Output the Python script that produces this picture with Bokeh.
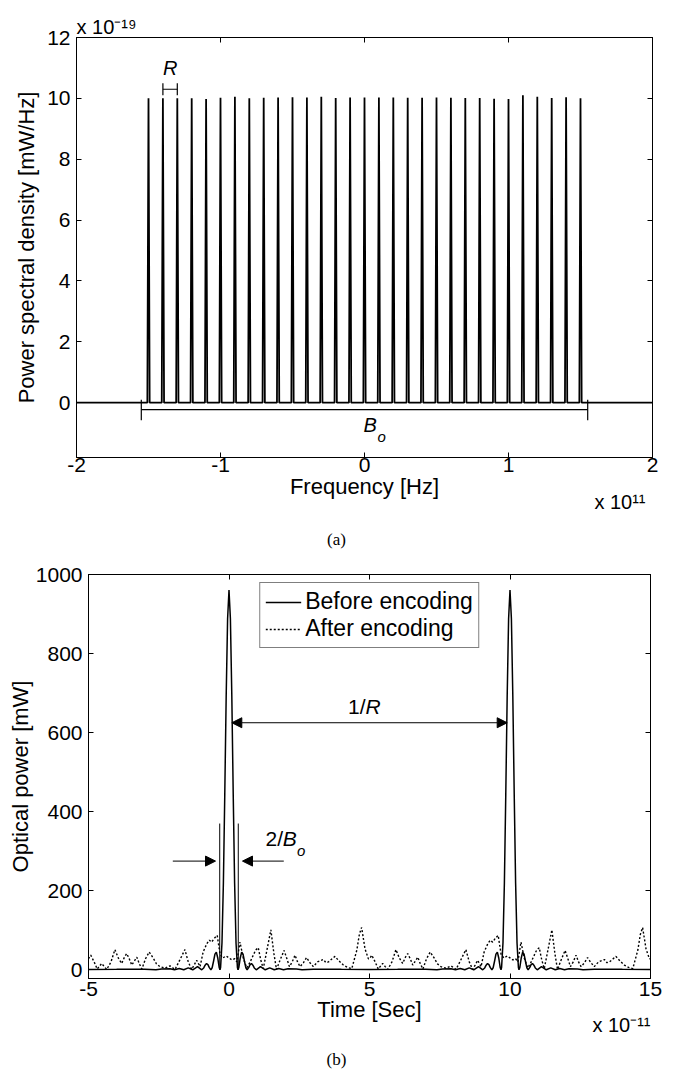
from bokeh.plotting import figure
from bokeh.models import (Range1d, LinearAxis, FixedTicker, Label, Arrow, NormalHead,
                          Legend, LegendItem, Title, Div)
from bokeh.layouts import column, row
from bokeh.embed import file_html
from bokeh.resources import INLINE

FONT = "Liberation Sans"
SERIF = "Liberation Serif"

# ---------------- (a) power spectral density (x 1e11 Hz, x 1e-19 mW/Hz) -------------
freq_lines = [-1.5, -1.4, -1.3, -1.2, -1.1, -1.0, -0.9, -0.8, -0.7, -0.6, -0.5,
              -0.4, -0.3, -0.2, -0.1, 0.0, 0.1, 0.2, 0.3, 0.4, 0.5, 0.6, 0.7,
              0.8, 0.9, 1.0, 1.1, 1.2, 1.3, 1.4, 1.5]
psd_peaks = [10.00, 10.00, 10.00, 10.00, 9.98, 10.02, 10.05, 10.00, 10.02, 10.03,
             10.04, 10.03, 10.05, 10.01, 10.03, 10.03, 10.03, 10.03, 10.02, 10.02,
             10.03, 10.02, 10.01, 10.01, 9.99, 9.98, 10.10, 10.05, 10.01, 10.04, 10.00]
freq_ticks = [-2, -1, 0, 1, 2]
psd_ticks = [0, 2, 4, 6, 8, 10, 12]

# ---------------- (b) optical power (time x 1e-11 s, mW) ------------------------------
pulse_centres = [0, 10]
before_dt = [-5.0, -4.0, -3.0, -2.6, -2.4, -2.1, -1.94, -1.77, -1.61, -1.45, -1.29,
             -1.12, -0.97, -0.90, -0.85, -0.80, -0.75, -0.70, -0.645, -0.60, -0.55,
             -0.50, -0.45, -0.40, -0.35, -0.32, -0.30, -0.25, -0.20, -0.15, -0.10,
             -0.05, 0.0, 0.05, 0.10, 0.15, 0.20, 0.25, 0.30, 0.32, 0.35, 0.40, 0.45,
             0.50, 0.55, 0.60, 0.645, 0.70, 0.75, 0.80, 0.85, 0.90, 0.97, 1.12, 1.29,
             1.45, 1.61, 1.77, 1.94, 2.1, 2.4, 2.6, 3.0, 4.0, 5.0]
before_p = [1.0, 1.2, 1.5, 0.3, 2.0, 2.6, 0.0, 3.3, 0.0, 4.9, 0.0, 8.1, 0.0, 4.7,
            11.7, 15.9, 13.2, 5.5, 0.0, 5.2, 21.6, 39.6, 44.7, 29.9, 5.8, 0.0, 5.4,
            68, 219, 445, 693, 888, 961, 888, 693, 445, 219, 68, 5.4, 0.0, 5.8, 29.9,
            44.7, 39.6, 21.6, 5.2, 0.0, 5.5, 13.2, 15.9, 11.7, 4.7, 0.0, 8.1, 0.0,
            4.9, 0.0, 3.3, 0.0, 2.6, 2.0, 0.3, 1.5, 1.2, 1.0]
after_dt = [-5.00, -4.92, -4.80, -4.69, -4.60, -4.53, -4.44, -4.35, -4.20, -4.06,
            -3.94, -3.82, -3.72, -3.64, -3.55, -3.46, -3.37, -3.28, -3.19, -3.10,
            -2.97, -2.84, -2.70, -2.58, -2.46, -2.28, -2.10, -1.92, -1.75, -1.57,
            -1.45, -1.33, -1.24, -1.15, -1.03, -0.92, -0.79, -0.70, -0.62, -0.52,
            -0.42, -0.32, -0.22, -0.10, 0.00, 0.10, 0.20, 0.28, 0.39, 0.51, 0.63,
            0.74, 0.85, 0.95, 1.04, 1.13, 1.22, 1.35, 1.49, 1.60, 1.69, 1.82, 1.96,
            2.06, 2.15, 2.25, 2.35, 2.44, 2.53, 2.65, 2.76, 2.88, 3.00, 3.15, 3.36,
            3.45, 3.54, 3.77, 3.92, 4.07, 4.22, 4.37, 4.55, 4.64, 4.72, 4.84, 4.96, 5.00]
after_p = [28, 37, 20, 2, 10, 16, 8, 1, 20, 51, 30, 16, 32, 41, 28, 12, 22, 32, 15, 2,
           28, 45, 30, 15, 8, 4, 10, 1, 25, 51, 20, 1, 12, 24, 8, 45, 66, 75, 70, 80,
           87, 40, 30, 35, 30, 25, 28, 20, 70, 29, 5, 18, 35, 50, 56, 25, 3, 50, 101,
           40, 1, 25, 49, 28, 8, 20, 37, 20, 8, 18, 31, 18, 8, 20, 26, 18, 20, 34, 22,
           12, 6, 3, 50, 90, 107, 53, 28, 28]
time_ticks = [-5, 0, 5, 10, 15]
power_ticks = [0, 200, 400, 600, 800, 1000]


def setup_axes(p, xticks, yticks, xlabel, ylabel, tfs, lfs, xstand, ystand, xlstand, ylstand):
    p.grid.visible = False
    p.outline_line_color = "black"
    p.background_fill_color = "white"
    p.border_fill_color = "white"
    xa = p.below[0]
    ya = p.left[0]
    for ax, ticks in ((xa, xticks), (ya, yticks)):
        ax.ticker = FixedTicker(ticks=ticks)
        ax.major_label_overrides = {t: str(t) for t in ticks}
        ax.major_tick_in = 5
        ax.major_tick_out = 0
        ax.minor_tick_line_color = None
        ax.axis_line_color = "black"
        ax.major_tick_line_color = "black"
        ax.major_label_text_font = FONT
        ax.major_label_text_font_size = tfs
        ax.major_label_text_color = "black"
        ax.axis_label_text_font = FONT
        ax.axis_label_text_font_size = lfs
        ax.axis_label_text_font_style = "normal"
        ax.axis_label_text_color = "black"
    xa.axis_label = xlabel
    ya.axis_label = ylabel
    xa.major_label_standoff = xstand
    ya.major_label_standoff = ystand
    xa.axis_label_standoff = xlstand
    ya.axis_label_standoff = ylstand
    # mirrored tick marks (box), drawn as unlabeled minor ticks
    for ticks, side in ((xticks, "above"), (yticks, "right")):
        ax2 = LinearAxis(ticker=FixedTicker(ticks=[], minor_ticks=ticks),
                         minor_tick_in=5, minor_tick_out=0, minor_tick_line_color="black",
                         major_tick_in=0, major_tick_out=0, major_label_standoff=0,
                         axis_line_color="black")
        p.add_layout(ax2, side)


def lab(p, x, y, text, size, align="left", baseline="middle", italic=False, font=FONT):
    p.add_layout(Label(x=x, y=y, text=text, text_font=font, text_font_size=size,
                       text_align=align, text_baseline=baseline, text_color="black",
                       text_font_style="italic" if italic else "normal"))


def title(p, text, side, align, offset, valign, standoff, size="20px"):
    p.add_layout(Title(text=text, align=align, offset=offset, vertical_align=valign,
                       standoff=standoff, text_font=FONT, text_font_size=size,
                       text_font_style="normal", text_color="black"), side)


# ============================ figure (a) ============================
p1 = figure(frame_width=576, frame_height=420, x_range=Range1d(-2, 2),
            y_range=Range1d(-1.8, 12), min_border_left=76, min_border_right=21,
            min_border_top=37, min_border_bottom=73, output_backend="svg",
            toolbar_location=None)
setup_axes(p1, freq_ticks, psd_ticks, "Frequency [Hz]", "Power spectral density [mW/Hz]",
           "21px", "22px", 0, 6, -1, 5)

half = 0.008
xs, ys = [freq_ticks[0]], [0]
for f, h in zip(freq_lines, psd_peaks):
    xs += [f - half, f, f + half]
    ys += [0, h, 0]
xs.append(freq_ticks[-1])
ys.append(0)
p1.line(xs, ys, line_color="black", line_width=1.8)

# R marker between 2nd and 3rd lines
r0, r1 = freq_lines[1], freq_lines[2]
p1.segment(x0=[r0, r0, r1], y0=[10.3, 10.1, 10.1], x1=[r1, r0, r1], y1=[10.3, 10.5, 10.5],
           line_color="black", line_width=1.2)
lab(p1, (r0 + r1) / 2, 11.0, "R", "20px", align="center", italic=True)

# B_o bracket
spacing = freq_lines[1] - freq_lines[0]
b0, b1 = freq_lines[0] - spacing / 2, freq_lines[-1] + spacing / 2
p1.segment(x0=[b0, b0, b1], y0=[-0.23, 0.1, 0.1], x1=[b1, b0, b1], y1=[-0.23, -0.58, -0.58],
           line_color="black", line_width=1.2)
lab(p1, 0.04, -0.72, "B", "20px", align="center", italic=True)
lab(p1, 0.09, -1.1, "o", "15px", align="left", italic=True)

title(p1, "x 10\u207b\u00b9\u2079", "above", "left", 0, "bottom", 0)
title(p1, "x 10\u00b9\u00b9", "below", "right", 7, "middle", -24)

# ============================ figure (b) ============================
p2 = figure(frame_width=562, frame_height=404, x_range=Range1d(-5, 15),
            y_range=Range1d(-22, 1000), min_border_left=88, min_border_right=23,
            min_border_top=24, min_border_bottom=72, output_backend="svg",
            toolbar_location=None)
setup_axes(p2, time_ticks, power_ticks, "Time [Sec]", "Optical power [mW]",
           "21px", "22px", 3, 6, -2, 0)

bx, by, ax_, ay = [], [], [], []
for c in pulse_centres:
    bx += [c + d for d in before_dt]
    by += before_p
    ax_ += [c + d for d in after_dt]
    ay += after_p

r_after = p2.line(ax_, ay, line_color="black", line_width=1.4, line_dash="2 2")
r_before = p2.line(bx, by, line_color="black", line_width=1.5)

c0, c1 = pulse_centres
# 1/R arrow
p2.add_layout(Arrow(x_start=c0 + 0.1, y_start=625, x_end=c1 - 0.1, y_end=625,
                    line_color="black", line_width=1,
                    start=NormalHead(size=10, fill_color="black", line_color="black"),
                    end=NormalHead(size=10, fill_color="black", line_color="black")))
lab(p2, 4.86, 666, "1/", "21px", align="right")
lab(p2, 4.86, 666, "R", "21px", align="left", italic=True)

# 2/B_o width marker
w = 0.33
p2.segment(x0=[c0 - w, c0 + w], y0=[0, 0], x1=[c0 - w, c0 + w], y1=[370, 370],
           line_color="black", line_width=1)
p2.add_layout(Arrow(x_start=c0 - 2.0, y_start=275, x_end=c0 - w - 0.15, y_end=275,
                    line_color="black", line_width=1, start=None,
                    end=NormalHead(size=10, fill_color="black", line_color="black")))
p2.add_layout(Arrow(x_start=c0 + 1.95, y_start=275, x_end=c0 + w + 0.15, y_end=275,
                    line_color="black", line_width=1, start=None,
                    end=NormalHead(size=10, fill_color="black", line_color="black")))
lab(p2, 1.30, 332, "2/", "21px", align="left")
lab(p2, 1.91, 332, "B", "21px", align="left", italic=True)
lab(p2, 2.42, 301, "o", "15px", align="left", italic=True)

legend = Legend(items=[LegendItem(label="Before encoding", renderers=[r_before]),
                       LegendItem(label="After encoding", renderers=[r_after])],
                location="top_center", margin=8, border_line_color="black",
                border_line_width=1, label_text_font=FONT, label_text_font_size="23px",
                label_text_color="black", glyph_width=36, glyph_height=20,
                label_standoff=4, padding=5, spacing=0, background_fill_alpha=1.0)
p2.add_layout(legend)

title(p2, "x 10\u207b\u00b9\u00b9", "below", "right", 0, "middle", -24)

cap_style = {"font-family": SERIF, "font-size": "17px", "text-align": "center",
             "color": "black"}
div_a = Div(text="(a)", width=673, height=20, margin=0,
            styles=dict(cap_style, **{"line-height": "20px"}))
div_b = Div(text="(b)", width=673, height=20, margin=0,
            styles=dict(cap_style, **{"line-height": "20px"}))

layout = column(row(p1, spacing=0), div_a, row(p2, spacing=0), div_b, spacing=0)
open("out.html", "w").write(file_html(layout, INLINE))
